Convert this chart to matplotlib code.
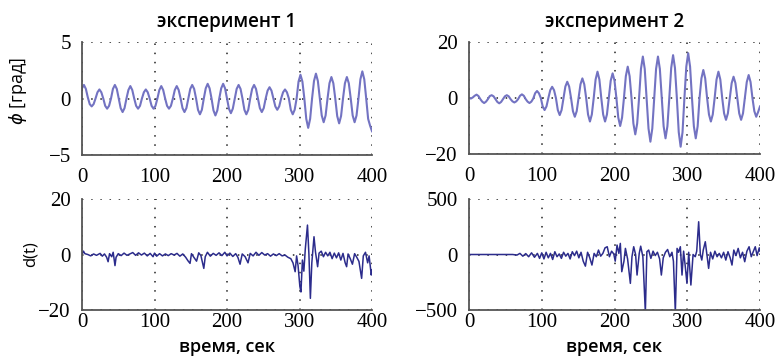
import numpy as np
import matplotlib
matplotlib.use("Agg")
import matplotlib.pyplot as plt

# ---------------- data ----------------
titles = ["эксперимент 1", "эксперимент 2"]
ylabels = [r"$\phi$ [град]", "d(t)"]
xlabel = "время, сек"
xticks = [0, 100, 200, 300, 400]
phi_ylims = [(-5, 5), (-20, 20)]
phi_yticks = [[-5, 0, 5], [-20, 0, 20]]
d_ylims = [(-20, 20), (-500, 500)]
d_yticks = [[-20, 0, 20], [-500, 0, 500]]

# experiment 1, phi [deg], regular samples over 0..400 s
phi1 = [0.9,
        1.2, 0.85, 0.1, -0.5, -0.7, -0.5, 0.0, 0.55,
        0.8, 0.55, 0.0, -0.65, -0.9, -0.65, 0.0, 0.85,
        1.2, 0.85, 0.0, -0.85, -1.2, -0.85, 0.0, 0.75,
        1.1, 0.75, 0.0, -0.65, -0.9, -0.65, 0.0, 0.55,
        0.8, 0.55, 0.0, -0.65, -0.9, -0.65, 0.0, 0.75,
        1.1, 0.75, 0.0, -0.65, -0.9, -0.65, 0.0, 0.75,
        1.1, 0.75, 0.0, -0.85, -1.2, -0.85, 0.0, 0.85,
        1.2, 0.85, 0.0, -1.0, -1.4, -1.0, 0.0, 0.9,
        1.3, 0.9, 0.0, -1.05, -1.5, -1.05, 0.0, 0.9,
        1.3, 0.9, 0.0, -0.9, -1.3, -0.9, 0.0, 0.85,
        1.2, 0.85, 0.0, -1.0, -1.4, -1.0, 0.0, 0.85,
        1.2, 0.85, 0.0, -0.85, -1.2, -0.85, 0.0, 0.7,
        1.0, 0.7, 0.0, -0.7, -1.0, -0.7, 0.0, 0.55,
        0.8, 0.55, 0.0, -1.0, -1.4, -1.0, 0.0, 1.5,
        2.1, 1.5, 0.0, -1.8, -2.6, -1.8, 0.0, 1.55,
        2.2, 1.55, 0.0, -1.5, -2.1, -1.5, 0.0, 1.35,
        1.9, 1.35, 0.0, -1.55, -2.2, -1.55, 0.0, 1.35,
        1.9, 1.35, 0.0, -1.5, -2.1, -1.5, 0.0, 1.7,
        2.4, 1.7, 0.0, -1.8, -2.4, -2.9]

# experiment 2, phi [deg], regular samples over 0..400 s
phi2 = [0.0, -0.2, 0.2, 0.8,
        1.2, 0.7, -0.4, -1.3, -1.8, -1.3, -0.4, 0.7,
        1.0, 0.6, -0.4, -1.4, -1.9, -1.4, -0.4, 0.6,
        1.0, 0.6, -0.4, -1.2, -1.6, -1.2, -0.4, 0.8,
        1.3, 0.8, -0.4, -1.3, -1.8, -1.3, -0.2, 1.7,
        2.5, 1.7, 0.0, -3.0, -4.3, -3.0, 0.0, 2.8,
        4.0, 2.8, 0.0, -4.3, -6.1, -4.3, 0.0, 4.1,
        5.8, 4.1, 0.0, -4.7, -6.7, -4.7, 0.0, 4.9,
        7.0, 4.9, 0.0, -5.9, -8.4, -5.9, 0.0, 6.6,
        9.4, 6.6, 0.0, -5.9, -8.4, -5.9, 0.0, 6.2,
        8.8, 6.2, 0.0, -7.0, -10.0, -7.0, 0.0, 7.8,
        11.2, 7.8, 0.0, -9.1, -13.0, -9.1, 0.0, 10.4,
        14.8, 10.4, 0.0, -10.9, -15.6, -10.9, 0.0, 10.4,
        14.8, 10.4, 0.0, -10.1, -14.4, -10.1, 0.0, 10.7,
        15.3, 10.7, 0.0, -12.2, -17.4, -12.2, 0.0, 11.2,
        16.0, 11.2, 0.0, -10.1, -14.4, -10.1, 0.0, 7.0,
        10.0, 7.0, 0.0, -5.9, -8.4, -5.9, 0.0, 6.6,
        9.4, 6.6, 0.0, -5.5, -7.8, -5.5, 0.0, 5.3,
        7.6, 5.3, 0.0, -5.5, -7.8, -5.5, 0.0, 5.7,
        8.2, 5.7, 0.0, -4.7, -6.7, -5.0, -3.0]

# experiment 1, d(t): time [s], value
d1_t = [0, 2, 4, 8, 12, 16, 20, 25, 28, 31, 34, 36, 38, 41, 43, 45.5, 47, 50,
        54, 58, 62, 66, 70, 74, 78, 82, 86, 90, 94, 98, 100, 103, 107, 111,
        115, 119, 123, 127, 131, 135, 139, 143, 146, 149, 151, 154, 158, 161,
        164, 168, 170, 173, 177, 181, 185, 189, 193, 197, 200, 204, 208, 212,
        215, 218, 221, 225, 229, 232, 236, 240, 244, 248, 252, 256, 260, 264,
        268, 272, 276, 280, 284, 288, 291, 294, 296, 298, 300.5, 302, 304,
        306, 308, 311, 313, 315, 317, 320, 322, 325, 327, 330, 333, 336, 339,
        342, 345, 348, 351, 354, 357, 360, 363, 365, 367, 370, 373, 376, 379,
        382, 385.7, 388, 391, 394, 396, 399, 400]
d1_v = [0, 1.2, 0.3, 0.0, -0.5, 0.2, -0.3, 0.4, -0.6, 0.2, -1.0, -2.6, 0.3,
        -0.8, 0.8, -4.0, -1.0, 0.3, -0.4, 0.5, -0.3, 0.2, 0.7, -0.3, 0.6,
        -0.2, 0.5, -0.5, 0.4, -0.8, 0.5, -0.6, 0.3, -0.5, 0.2, -0.4, 0.3,
        -0.2, 0.4, -0.6, 0.2, -1.0, -2.2, -3.2, 0.3, -0.9, -2.4, 0.6, -0.4,
        -5.0, -0.8, 0.8, -0.6, 0.4, -0.3, 0.6, -0.4, 0.8, -0.5, 0.5, -0.7,
        0.3, -1.0, -3.5, 0.2, -0.8, -3.0, 0.4, -0.5, 0.8, -0.3, 0.7, -0.2,
        0.3, -0.6, 0.2, -0.4, 0.3, -0.5, -0.2, -1.0, -1.5, -3.0, -6.2, -0.5,
        -4.0, -11.5, -13.5, -2.0, -6.0, 2.0, 10.6, 0.0, -15.8, -3.0, 6.4, 1.0,
        -4.4, 0.5, 1.2, -0.8, 0.8, -0.5, 0.8, -1.5, 0.5, -1.2, 0.6, -2.0, 0.4,
        -3.0, -4.4, 0.2, -1.5, -3.5, 0.3, -1.0, -2.5, -8.6, -0.5, 0.8, -3.0,
        -0.5, -7.4, -5.5]

# experiment 2, d(t): time [s], value
d2_t = [0, 60, 66, 70, 74, 78, 82, 86, 90, 94, 97, 100, 103, 106, 109, 112,
        115, 118, 121, 124, 127, 130, 133, 136, 139, 142, 145, 148, 151, 154,
        157, 160, 163, 166, 169, 172, 175, 178, 181, 184, 187, 190, 193, 196,
        199, 201, 203.5, 206, 208, 210, 213, 215, 218, 221.8, 224, 226.4, 229,
        231, 234, 236, 239, 242.4, 244.5, 247, 250, 253, 256, 259, 262, 264.4,
        267, 270, 273, 276, 279, 281, 283.6, 286, 288, 290.5, 292.8, 295, 297,
        299.6, 302, 305, 308, 311, 313, 315.7, 318, 320, 322, 324.8, 327,
        329.4, 332, 335, 338, 341, 344, 347, 350, 353, 356, 359, 361.5, 364,
        367, 370, 373, 376, 379, 382, 385, 388, 391, 393.5, 396, 399, 400]
d2_v = [0, 0, -5, 10, -15, 8, -20, 15, -25, 10, -35, 15, -40, 20, -30, 10,
        -45, 25, -20, 5, -35, 20, -15, 10, -40, 25, -10, 30, -30, 20, -60,
        -105, 20, -30, -95, 10, -20, 40, -15, 10, 60, 70, -20, 30, 5, -60, 85,
        10, 100, -155, -60, 55, -40, -260, -20, 70, 0, -185, 10, 75, -20, -520,
        25, 40, -35, 30, -10, 20, -40, -185, -30, 20, 45, -20, 20, -60, -520,
        55, 20, 70, -185, 30, -90, -260, 20, -275, 0, -20, 30, 295, 0, -50, 40,
        115, 0, -125, 20, -40, 30, -20, 10, -30, 20, -50, 25, -30, -95, 40,
        -10, 55, -30, 20, -65, 30, 70, -20, 30, 70, -10, 60, 30]

# ---------------- figure ----------------
plt.rcParams["font.family"] = ["Open Sans", "DejaVu Sans"]
fig = plt.figure(figsize=(7.8, 3.56), dpi=100)

W, H = 780.0, 356.0
boxes = {
    (0, 0): (82, 42, 372, 155),
    (0, 1): (469, 42, 760, 154),
    (1, 0): (82, 199, 372, 310),
    (1, 1): (469, 199, 760, 310),
}

top_color = "#7373c2"
bot_color = "#2c2c8c"
tick_font = dict(family=["Liberation Serif", "DejaVu Serif"], size=15)

phi_series = [phi1, phi2]
d_series = [(d1_t, d1_v), (d2_t, d2_v)]

for (r, c), (x0, y0, x1, y1) in boxes.items():
    ax = fig.add_axes([x0 / W, 1 - y1 / H, (x1 - x0) / W, (y1 - y0) / H])
    hpx = y1 - y0
    if r == 0:
        y = phi_series[c]
        t = np.linspace(0, 400, len(y))
        ax.plot(t, y, color=top_color, lw=1.5)
        ax.set_ylim(*phi_ylims[c])
        ax.set_yticks(phi_yticks[c])
        ax.set_title(titles[c], fontsize=13.5, fontweight="semibold", pad=11)
        if c == 0:
            ax.set_ylabel(ylabels[0], fontsize=13)
            ax.yaxis.set_label_coords((29 - x0) / (x1 - x0), 0.57)
        xpad = 9
    else:
        tt, vv = d_series[c]
        ax.plot(tt, vv, color=bot_color, lw=1.1)
        ax.set_ylim(*d_ylims[c])
        ax.set_yticks(d_yticks[c])
        ax.set_xlabel(xlabel, fontsize=13, fontweight="semibold")
        ax.xaxis.set_label_coords(0.5, (y1 - 338) / hpx)
        if c == 0:
            ax.set_ylabel(ylabels[1], fontsize=12)
            ax.yaxis.set_label_coords((39 - x0) / (x1 - x0), 0.5)
        xpad = 2
    ax.set_xlim(0, 400)
    ax.set_xticks(xticks)
    ax.grid(True, color="#222222", linestyle=(0, (1, 5)), lw=1.1)
    for s in ("top", "right"):
        ax.spines[s].set_visible(False)
    for s in ("left", "bottom"):
        ax.spines[s].set_color("#555555")
        ax.spines[s].set_linewidth(1.3)
    ax.tick_params(direction="in", length=0)
    ax.tick_params(axis="y", pad=8)
    ax.tick_params(axis="x", pad=xpad)
    labels = [("\u2212" + str(-v)) if v < 0 else str(v) for v in ax.get_yticks()]
    ax.set_yticklabels(labels, fontdict=tick_font)
    ax.set_xticklabels([str(v) for v in xticks], fontdict=tick_font)

fig.savefig("out.png", dpi=100)
